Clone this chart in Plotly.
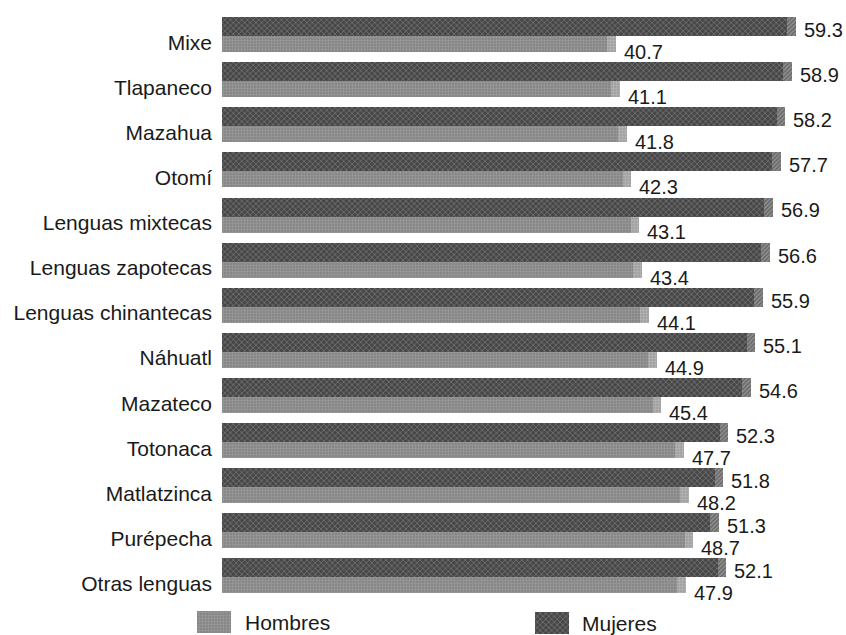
import plotly.graph_objects as go

# Porcentaje de hablantes de lengua indígena monolingües, por sexo
categorias = [
    "Mixe", "Tlapaneco", "Mazahua", "Otomí", "Lenguas mixtecas",
    "Lenguas zapotecas", "Lenguas chinantecas", "Náhuatl", "Mazateco",
    "Totonaca", "Matlatzinca", "Purépecha", "Otras lenguas",
]
mujeres = [59.3, 58.9, 58.2, 57.7, 56.9, 56.6, 55.9, 55.1, 54.6, 52.3, 51.8, 51.3, 52.1]
hombres = [40.7, 41.1, 41.8, 42.3, 43.1, 43.4, 44.1, 44.9, 45.4, 47.7, 48.2, 48.7, 47.9]
series = ["Hombres", "Mujeres"]

W, H = 846, 635
X0 = 222          # pixel where value 0 sits
PX_PER_UNIT = 9.68
ROW_PX = 45.1     # vertical pitch of a category
FIRST_ROW_PX = 37 # pixel centre of the first category
PLOT_BOTTOM_PX = 605

FONT = "Liberation Sans, Arial, sans-serif"
TXT = "#1a1a1a"

idx = list(range(len(categorias)))
cap = 0.9  # depth of the bevelled bar ends, in value units

mujer_style = dict(color="#555555",
                   pattern=dict(shape="x", fgcolor="#a0a0a0", bgcolor="#474747",
                                size=4, solidity=0.35))
mujer_cap = dict(color="#7a7a7a",
                 pattern=dict(shape="/", fgcolor="#c4c4c4", bgcolor="#6a6a6a",
                              size=3, solidity=0.4))
hombre_style = dict(color="#939393",
                    pattern=dict(shape="+", fgcolor="#b0b0b0", bgcolor="#878787",
                                 size=3, solidity=0.35))
hombre_cap = dict(color="#b0b0b0",
                  pattern=dict(shape="+", fgcolor="#cccccc", bgcolor="#a2a2a2",
                               size=3, solidity=0.35))

fig = go.Figure()

# Mujeres: upper, thicker band of each category
fig.add_trace(go.Bar(y=idx, x=mujeres, orientation="h", name=series[1],
                     offset=-0.44, width=0.42, marker=mujer_style,
                     marker_line_width=0, showlegend=False))
fig.add_trace(go.Bar(y=idx, x=[cap] * len(idx), base=[m - cap for m in mujeres],
                     orientation="h", offset=-0.44, width=0.42, marker=mujer_cap,
                     marker_line_width=0, showlegend=False, hoverinfo="skip"))
# Hombres: lower band
fig.add_trace(go.Bar(y=idx, x=hombres, orientation="h", name=series[0],
                     offset=-0.02, width=0.355, marker=hombre_style,
                     marker_line_width=0, showlegend=False))
fig.add_trace(go.Bar(y=idx, x=[cap] * len(idx), base=[h - cap for h in hombres],
                     orientation="h", offset=-0.02, width=0.355, marker=hombre_cap,
                     marker_line_width=0, showlegend=False, hoverinfo="skip"))

annotations = []
for i, (m, h) in enumerate(zip(mujeres, hombres)):
    annotations.append(dict(x=m, y=i, xref="x", yref="y", text=f"{m:.1f}",
                            showarrow=False, xanchor="left", yanchor="middle",
                            xshift=6, yshift=7,
                            font=dict(family=FONT, size=20, color=TXT)))
    annotations.append(dict(x=h, y=i, xref="x", yref="y", text=f"{h:.1f}",
                            showarrow=False, xanchor="left", yanchor="middle",
                            xshift=6, yshift=-15,
                            font=dict(family=FONT, size=20, color=TXT)))

# Legend swatches drawn on a pixel-scaled helper axis along the bottom
fig.add_trace(go.Bar(y=[13.5], x=[34], base=[197], orientation="h", width=[22],
                     marker=hombre_style, marker_line_width=0,
                     xaxis="x2", yaxis="y2", showlegend=False, hoverinfo="skip"))
fig.add_trace(go.Bar(y=[12.5], x=[34], base=[535], orientation="h", width=[22],
                     marker=mujer_style, marker_line_width=0,
                     xaxis="x2", yaxis="y2", showlegend=False, hoverinfo="skip"))
annotations.append(dict(x=243 / W, y=(H - 622) / H, xref="paper", yref="paper",
                        text=series[0], showarrow=False, xanchor="left",
                        yanchor="middle", font=dict(family=FONT, size=21, color=TXT)))
annotations.append(dict(x=580 / W, y=(H - 623) / H, xref="paper", yref="paper",
                        text=series[1], showarrow=False, xanchor="left",
                        yanchor="middle", font=dict(family=FONT, size=21, color=TXT)))

y_top = -FIRST_ROW_PX / ROW_PX
y_bot = (PLOT_BOTTOM_PX - FIRST_ROW_PX) / ROW_PX
x_max = (W - X0) / PX_PER_UNIT

fig.update_layout(
    width=W, height=H,
    margin=dict(l=0, r=0, t=0, b=0),
    paper_bgcolor="white", plot_bgcolor="white",
    barmode="overlay",
    bargap=0,
    xaxis=dict(domain=[X0 / W, 1], range=[0, x_max], visible=False,
               fixedrange=True),
    yaxis=dict(domain=[(H - PLOT_BOTTOM_PX) / H, 1], range=[y_bot, y_top],
               tickmode="array", tickvals=[i + 0.12 for i in idx], ticktext=categorias,
               showgrid=False, zeroline=False, showline=False, ticks="",
               ticklabelstandoff=9, automargin=False,
               tickfont=dict(family=FONT, size=21, color=TXT)),
    xaxis2=dict(domain=[0, 1], range=[0, W], visible=False, anchor="y2"),
    yaxis2=dict(domain=[0, (H - PLOT_BOTTOM_PX) / H], range=[0, H - PLOT_BOTTOM_PX],
                visible=False, anchor="x2"),
    annotations=annotations,
    showlegend=False,
)

fig.write_html("out.html")
